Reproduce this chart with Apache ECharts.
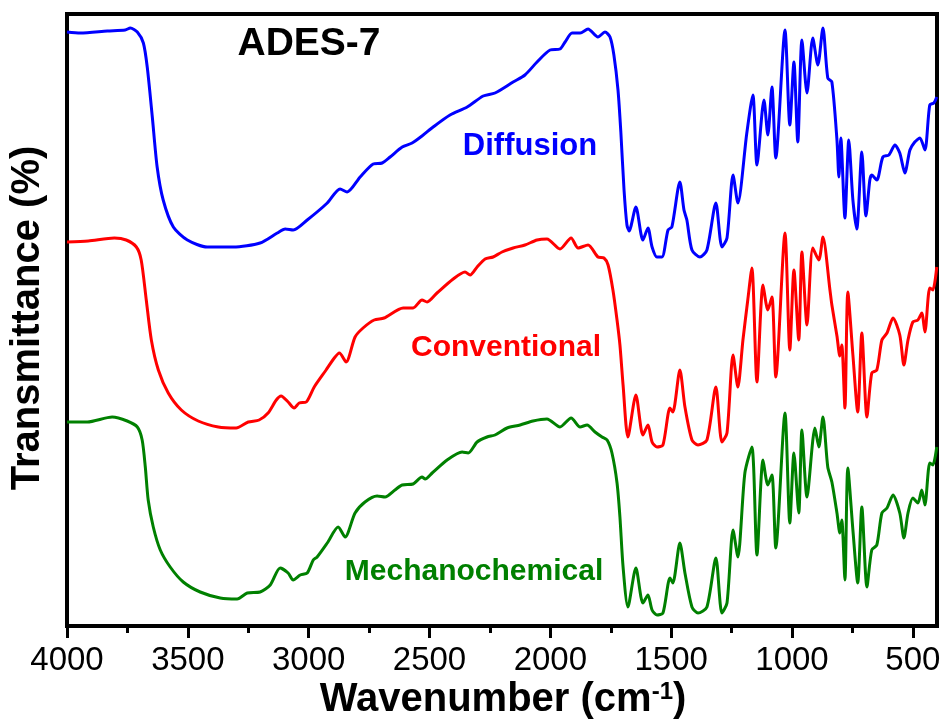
<!DOCTYPE html>
<html>
<head>
<meta charset="utf-8">
<title>ADES-7 FTIR</title>
<script src="https://cdn.jsdelivr.net/npm/echarts@6.0.0/dist/echarts.min.js"></script>
<style>
  html, body { margin: 0; padding: 0; background: #fff; }
  #chart { width: 947px; height: 728px; }
</style>
</head>
<body>
<div id="chart"></div>
<script>
'use strict';

// tick positions (wavenumber, cm-1)
var tickValues = [4000, 3500, 3000, 2500, 2000, 1500, 1000, 500];
var minorTickValues = [3750, 3250, 2750, 2250, 1750, 1250, 750];

// Diffusion (blue) - offset transmittance, arbitrary units
var diffusionWn = [4000,3945,3833,3759,3738,3709,3684,3668,3647,3627,3602,3560,3502,3420,3312,3201,3130,3097,3064,3006,2923,2870,2841,2787,2733,2696,2663,2613,2572,2531,2485,2415,2344,2278,2229,2154,2105,2055,2001,1960,1939,1910,1877,1844,1803,1774,1753,1737,1720,1708,1695,1683,1674,1646,1617,1596,1579,1559,1538,1513,1497,1464,1447,1435,1414,1381,1352,1315,1290,1269,1244,1224,1187,1162,1145,1116,1100,1083,1067,1029,1009,992,976,959,938,914,893,872,852,835,814,806,798,781,765,748,732,711,694,678,670,649,624,599,574,554,533,512,492,471,450,430,413,401];
var diffusionT = [594,593,595,596,598,594,583,559,509,459,426,399,386,379,379,383,393,397,396,406,423,437,434,449,462,463,469,479,483,490,499,511,519,530,533,544,551,564,576,577,584,593,593,597,589,594,589,571,536,493,436,401,395,419,386,398,379,369,369,396,399,444,416,406,376,369,376,423,379,388,451,423,493,531,461,526,491,539,468,596,501,564,484,586,533,588,561,598,548,544,486,449,488,408,486,426,397,474,410,446,451,446,469,471,481,473,453,476,484,488,476,521,523,529];

// Conventional (red)
var conventionalWn = [4000,3912,3804,3755,3713,3693,3672,3651,3622,3581,3527,3457,3374,3300,3250,3205,3168,3134,3114,3085,3060,3039,3010,2977,2928,2894,2873,2845,2808,2775,2729,2688,2609,2568,2531,2510,2469,2402,2353,2332,2303,2270,2237,2200,2154,2105,2055,2014,1960,1914,1885,1844,1803,1778,1761,1741,1724,1712,1699,1679,1646,1617,1596,1579,1559,1534,1505,1493,1464,1443,1414,1389,1352,1315,1290,1269,1244,1224,1203,1183,1166,1145,1120,1100,1083,1067,1029,1009,992,972,959,938,914,889,872,843,835,814,802,794,781,769,748,728,711,690,670,649,628,607,582,554,537,520,500,479,463,450,430,417,401];
var conventionalT = [384,385,388,386,379,366,326,286,256,233,216,205,199,198,204,206,213,226,230,224,218,223,224,239,256,268,273,264,289,298,306,308,318,318,326,324,333,347,354,351,359,367,369,374,378,381,386,387,377,388,378,381,369,368,361,336,306,281,241,189,231,191,201,184,179,181,218,214,256,219,186,181,186,239,184,193,271,239,286,326,358,244,341,316,329,249,393,276,356,286,374,301,378,366,389,336,321,290,270,281,218,334,271,214,293,209,253,256,286,293,308,291,261,286,304,306,313,294,338,336,359];

// Mechanochemical (green)
var mechanoWn = [4000,3916,3813,3751,3709,3689,3676,3664,3643,3614,3573,3519,3449,3366,3296,3254,3201,3159,3118,3085,3064,3035,3006,2981,2965,2923,2878,2849,2808,2767,2717,2684,2643,2613,2568,2531,2518,2489,2427,2365,2340,2303,2262,2229,2179,2125,2072,2014,1960,1914,1877,1848,1815,1786,1765,1745,1724,1712,1699,1679,1646,1617,1596,1579,1559,1534,1505,1493,1464,1443,1414,1389,1352,1315,1290,1269,1244,1224,1195,1166,1145,1120,1100,1083,1067,1029,1009,992,972,959,938,905,889,872,852,835,814,802,794,781,769,748,728,711,690,670,649,628,607,582,554,537,520,500,479,463,450,430,417,401];
var mechanoT = [204,204,209,205,199,186,159,126,99,76,59,44,34,28,27,33,34,41,58,53,46,51,53,66,69,83,99,89,113,124,130,129,136,141,142,149,147,153,166,174,173,184,189,191,198,201,205,207,199,208,199,201,194,189,186,173,143,109,59,19,58,23,31,16,11,13,48,43,83,53,19,13,19,68,13,23,96,69,153,179,71,166,141,151,78,213,103,173,113,196,129,198,179,209,159,144,113,93,106,46,158,96,43,119,39,76,81,113,118,131,113,88,113,128,123,136,121,163,161,179];

var FONT = 'Liberation Sans, Arial, Helvetica, sans-serif';

function zip(xs, ys) {
  return xs.map(function(x, i) { return [x, ys[i]]; });
}

function spectrum(name, color, xs, ys) {
  return {
    name: name,
    type: 'line',
    showSymbol: false,
    symbol: 'none',
    silent: true,
    smooth: 0.25,
    lineStyle: { color: color, width: 3 },
    data: zip(xs, ys)
  };
}

function label(text, x, y, color, size) {
  return {
    type: 'text',
    x: x,
    y: y,
    silent: true,
    style: {
      text: text,
      fill: color,
      fontSize: size,
      fontWeight: 'bold',
      fontFamily: FONT,
      align: 'center',
      verticalAlign: 'middle'
    }
  };
}

var chart = echarts.init(document.getElementById('chart'), null, { renderer: 'canvas' });

var option = {
  animation: false,
  backgroundColor: '#fff',
  grid: {
    left: 67, right: 10, top: 14, bottom: 102,
    show: true, borderColor: '#000', borderWidth: 4,
    containLabel: false
  },
  xAxis: [
    {
      type: 'value', min: 400, max: 4000, inverse: true,
      axisLine: { show: true, lineStyle: { color: '#000', width: 4 } },
      axisTick: { show: true, customValues: tickValues, length: 12, lineStyle: { color: '#000', width: 3 } },
      axisLabel: {
        show: true, customValues: tickValues, margin: 18, color: '#000', fontSize: 33, fontFamily: FONT,
        formatter: function(v) { return String(v); }
      },
      splitLine: { show: false }
    },
    {
      // minor ticks only
      type: 'value', min: 400, max: 4000, inverse: true, position: 'bottom', offset: 0,
      axisLine: { show: true, lineStyle: { color: '#000', width: 4 } },
      axisTick: { show: true, customValues: minorTickValues, length: 7, lineStyle: { color: '#000', width: 3 } },
      axisLabel: { show: false, customValues: minorTickValues },
      splitLine: { show: false }
    }
  ],
  yAxis: {
    type: 'value', min: 0, max: 612,
    axisLine: { show: true, lineStyle: { color: '#000', width: 4 } },
    axisTick: { show: false },
    axisLabel: { show: false },
    splitLine: { show: false }
  },
  series: [
    spectrum('Diffusion', '#0000ff', diffusionWn, diffusionT),
    spectrum('Conventional', '#ff0000', conventionalWn, conventionalT),
    spectrum('Mechanochemical', '#008000', mechanoWn, mechanoT)
  ],
  graphic: [
    label('ADES-7', 309, 44, '#000', 39),
    label('Diffusion', 530, 146, '#0000ff', 31),
    label('Conventional', 506, 348, '#ff0000', 30),
    label('Mechanochemical', 474, 572, '#008000', 30),
    {
      type: 'text', x: 28, y: 318, rotation: Math.PI / 2, silent: true,
      style: {
        text: 'Transmittance (%)', fill: '#000', fontSize: 40, fontWeight: 'bold',
        fontFamily: FONT, align: 'center', verticalAlign: 'middle'
      }
    },
    {
      type: 'text', x: 503, y: 700, silent: true,
      style: {
        text: '{a|Wavenumber (cm}{s|-1}{a|)}',
        align: 'center', verticalAlign: 'middle',
        rich: {
          a: { fontSize: 40, fontWeight: 'bold', fontFamily: FONT, fill: '#000' },
          s: { fontSize: 24, fontWeight: 'bold', fontFamily: FONT, fill: '#000', verticalAlign: 'top' }
        }
      }
    }
  ]
};

chart.setOption(option);
</script>
</body>
</html>
